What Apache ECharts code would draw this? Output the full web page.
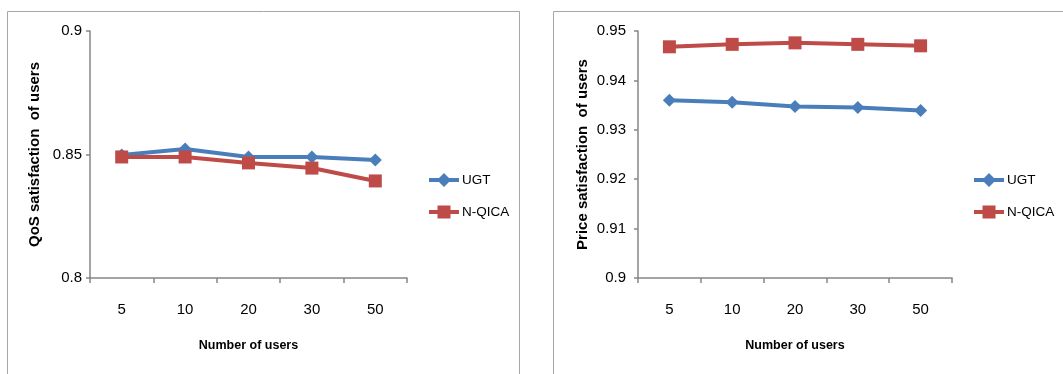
<!DOCTYPE html>
<html>
<head>
<meta charset="utf-8">
<script src="https://cdn.jsdelivr.net/npm/echarts@6/dist/echarts.min.js"></script>
<style>
  html, body { margin: 0; padding: 0; background: #fff; }
  #chart { width: 1063px; height: 374px; }
</style>
</head>
<body>
<div id="chart"></div>
<script>
// Number of users on the x axis (shared by both panels)
const userCounts = ['5', '10', '20', '30', '50'];

// QoS satisfaction of users
const qosUGT   = [0.8498, 0.8522, 0.8490, 0.8490, 0.8478];
const qosNQICA = [0.8490, 0.8490, 0.8466, 0.8445, 0.8393];

// Price satisfaction of users
const priceUGT   = [0.9360, 0.9356, 0.9347, 0.9345, 0.9339];
const priceNQICA = [0.9468, 0.9473, 0.9476, 0.9473, 0.9470];

const seriesNames = ['UGT', 'N-QICA'];

const BLUE = '#4a7ebb';
const RED = '#be4b48';
const AXIS = '#868686';
const FONT = '"Liberation Sans", Arial, sans-serif';

// Legend keys: a thick line segment with the series marker in its middle
const ICON_DIAMOND = 'path://M0,5 L10,5 L15,0 L20,5 L30,5 L30,9 L20,9 L15,14 L10,9 L0,9 Z';
const ICON_SQUARE = 'path://M0,5 L8.5,5 L8.5,0.5 L21.5,0.5 L21.5,5 L30,5 L30,9 L21.5,9 L21.5,13.5 L8.5,13.5 L8.5,9 L0,9 Z';

function xAxisFor(gridIndex) {
  return {
    type: 'category',
    gridIndex: gridIndex,
    data: userCounts,
    boundaryGap: true,
    name: 'Number of users',
    nameLocation: 'middle',
    nameGap: 61,
    nameTextStyle: { fontFamily: FONT, fontWeight: 'bold', fontSize: 12.5, color: '#000' },
    axisLine: { lineStyle: { color: AXIS, width: 1.5 } },
    axisTick: { show: true, length: 5, lineStyle: { color: AXIS, width: 1.5 } },
    axisLabel: { fontFamily: FONT, fontSize: 15, color: '#000', margin: 24 },
    splitLine: { show: false }
  };
}

function yAxisFor(gridIndex, min, max, interval, name, margin) {
  return {
    type: 'value',
    gridIndex: gridIndex,
    min: min,
    max: max,
    interval: interval,
    name: name,
    nameLocation: 'middle',
    nameGap: 48,
    nameTextStyle: { fontFamily: FONT, fontWeight: 'bold', fontSize: 15, color: '#000' },
    axisLine: { show: true, lineStyle: { color: AXIS, width: 1.5 } },
    axisTick: { show: true, length: 4, lineStyle: { color: AXIS, width: 1.5 } },
    axisLabel: { fontFamily: FONT, fontSize: 15, color: '#000', margin: margin },
    splitLine: { show: false }
  };
}

function lineSeries(name, data, axisIndex, color, symbol, size) {
  return {
    name: name,
    type: 'line',
    xAxisIndex: axisIndex,
    yAxisIndex: axisIndex,
    data: data,
    symbol: symbol,
    symbolSize: size,
    showAllSymbol: true,
    lineStyle: { color: color, width: 4 },
    itemStyle: { color: color },
    emphasis: { disabled: true },
    animation: false
  };
}

function legendFor(left) {
  return {
    data: [
      { name: seriesNames[0], icon: ICON_DIAMOND },
      { name: seriesNames[1], icon: ICON_SQUARE }
    ],
    orient: 'vertical',
    left: left,
    top: 173,
    padding: 0,
    itemWidth: 30,
    itemHeight: 14,
    itemGap: 18,
    textStyle: { fontFamily: FONT, fontSize: 13.5, color: '#000', padding: [0, 0, 0, -2] }
  };
}

const chart = echarts.init(document.getElementById('chart'), null, { renderer: 'canvas' });

chart.setOption({
  backgroundColor: '#fff',
  animation: false,
  graphic: [
    { type: 'rect', shape: { x: 7.5, y: 11.5, width: 512, height: 400 },
      style: { fill: 'none', stroke: '#a6a6a6', lineWidth: 1 }, silent: true },
    { type: 'rect', shape: { x: 553.5, y: 11.5, width: 540, height: 400 },
      style: { fill: 'none', stroke: '#a6a6a6', lineWidth: 1 }, silent: true }
  ],
  legend: [legendFor(429), legendFor(974)],
  grid: [
    { left: 90, top: 31, width: 317, height: 247, containLabel: false },
    { left: 638, top: 31, width: 314, height: 247, containLabel: false }
  ],
  xAxis: [xAxisFor(0), xAxisFor(1)],
  yAxis: [
    yAxisFor(0, 0.8, 0.9, 0.05, 'QoS satisfaction  of users', 8),
    yAxisFor(1, 0.9, 0.95, 0.01, 'Price satisfaction  of users', 12)
  ],
  series: [
    lineSeries('UGT', qosUGT, 0, BLUE, 'diamond', 13),
    lineSeries('N-QICA', qosNQICA, 0, RED, 'rect', 13),
    lineSeries('UGT', priceUGT, 1, BLUE, 'diamond', 13),
    lineSeries('N-QICA', priceNQICA, 1, RED, 'rect', 13)
  ]
});
</script>
</body>
</html>
